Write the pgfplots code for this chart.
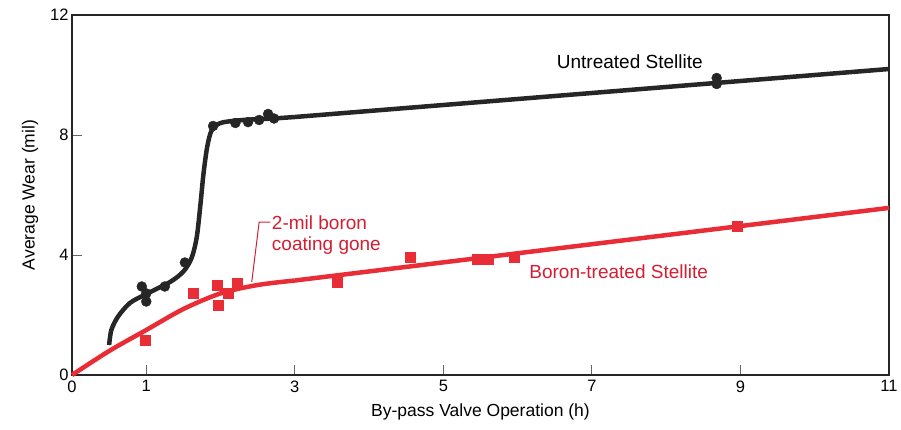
\documentclass[border=0pt]{standalone}
\usepackage{pgfplots}
\pgfplotsset{compat=1.18}
\usepackage{fontspec}
\setmainfont{Liberation Sans}
\definecolor{curvered}{RGB}{232,45,55}
\definecolor{textred}{RGB}{212,30,50}
\definecolor{curveblack}{RGB}{38,38,38}
\begin{document}
\begin{tikzpicture}
\begin{axis}[
  name=ax,
  scale only axis,
  width=817pt, height=360pt,
  xmin=0, xmax=11, ymin=0, ymax=12,
  enlargelimits=false,
  xtick={0,1,3,5,7,9,11},
  ytick={0,4,8,12},
  tick pos=left,
  tick align=inside,
  major tick length=10pt,
  tick style={black!60, line width=1pt},
  axis line style={black!85, line width=1.4pt},
  /pgf/number format/assume math mode=true,
  ticklabel style={font=\fontsize{16.5}{18}\selectfont},
  xticklabel style={yshift=-2pt},
  xlabel={By-pass Valve Operation (h)},
  ylabel={Average Wear (mil)},
  label style={font=\fontsize{17.5}{20}\selectfont},
  xlabel style={at={(axis description cs:0.5,-0.1028)}, anchor=center},
  ylabel style={at={(axis description cs:-0.0514,0.5)}, anchor=center},
  clip=false,
]
% Untreated Stellite curve
\addplot[curveblack, line width=4.5pt, smooth, tension=0.5] coordinates {
  (0.5,1.0) (0.53,1.5) (0.62,1.95) (0.78,2.4) (1.0,2.7) (1.32,3.1)
  (1.5,3.45) (1.61,3.9) (1.68,4.6) (1.73,5.7) (1.77,6.7) (1.82,7.6)
  (1.88,8.15) (2.0,8.4) (2.3,8.5) (2.7,8.55) (3.0,8.6)
};
\addplot[curveblack, line width=4.5pt] coordinates {(3.0,8.6) (11,10.2)};
\addplot[only marks, mark=*, mark size=5pt, curveblack] coordinates {
  (0.94,2.95) (1.0,2.72) (1.0,2.45) (1.25,2.95) (1.52,3.75)
  (1.9,8.3) (2.2,8.4) (2.37,8.43) (2.52,8.5) (2.64,8.7) (2.72,8.55)
  (8.68,9.9) (8.68,9.7)
};
% Boron-treated Stellite curve
\addplot[curvered, line width=4.5pt, smooth, tension=0.5] coordinates {
  (0,0) (0.5,0.8) (1,1.5) (1.5,2.2) (2,2.72) (2.5,3.0) (3.0,3.15)
};
\addplot[curvered, line width=4.5pt] coordinates {(3.0,3.15) (11,5.57)};
\addplot[only marks, mark=square*, mark size=5pt, curvered] coordinates {
  (0.98,1.17) (1.63,2.73) (1.95,3.0) (1.97,2.33) (2.1,2.73) (2.23,3.07)
  (3.57,3.1) (4.55,3.93) (5.45,3.85) (5.6,3.85) (5.96,3.93) (8.96,4.97)
};
% annotations
\node[font=\fontsize{19}{21}\selectfont, text=black] at (axis cs:7.51,10.43) {Untreated Stellite};
\node[font=\fontsize{19}{21}\selectfont, text=textred] at (axis cs:7.36,3.43) {Boron-treated Stellite};
\node[font=\fontsize{19}{21}\selectfont, text=textred, anchor=north west, inner sep=0pt, align=left]
  at (axis cs:2.69,5.33) {2-mil boron\\coating gone};
\draw[textred, line width=1pt] (axis cs:2.67,5.1) -- (axis cs:2.52,5.1) -- (axis cs:2.42,3.1);
\end{axis}
\pgfresetboundingbox
\path ([shift={(-72pt,-54pt)}]ax.south west) rectangle ([shift={(12pt,15pt)}]ax.north east);
\end{tikzpicture}
\end{document}
